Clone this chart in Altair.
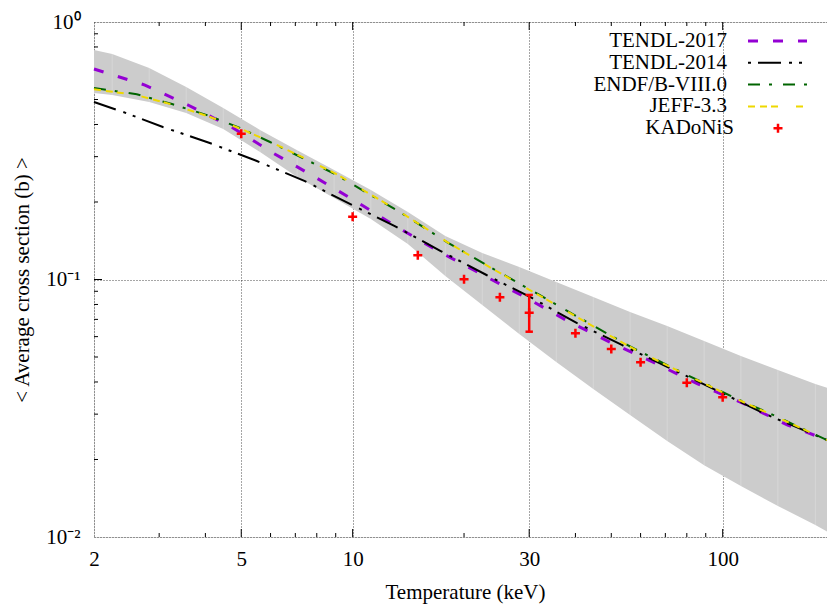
import altair as alt
import pandas as pd

FONT = "Liberation Serif"
AXFONT = "Liberation Serif, Times New Roman, serif"

# ---------------- data ----------------
band_x = [2, 2.24, 2.82, 3.55, 4.47, 5.62, 7.08, 8.91, 11.2, 14.1, 17.8, 22.4,
          28.2, 35.5, 44.7, 56.2, 70.8, 89.1, 112, 141, 178, 191.4]
band_hi = [0.778, 0.751, 0.663, 0.559, 0.463, 0.381, 0.318, 0.266, 0.2226, 0.1829,
           0.1475, 0.1268, 0.1118, 0.0978, 0.0855, 0.0748, 0.0660, 0.0577, 0.0505,
           0.0445, 0.0393, 0.0380]
band_lo = [0.530, 0.5205, 0.489, 0.443, 0.384, 0.3128, 0.250, 0.2073, 0.1718, 0.1374,
           0.1032, 0.0796, 0.0614, 0.0478, 0.0376, 0.0298, 0.0236, 0.0190, 0.01578,
           0.01320, 0.01113, 0.01050]

t17_x = [2, 2.746, 3.59, 4.75, 6.09, 7.91, 10.27, 13.17, 17.2, 22.5, 29.2, 38.1,
         50.1, 65.5, 85.6, 113.3, 149.9, 191.4]
t17_y = [0.657, 0.569, 0.476, 0.388, 0.310, 0.250, 0.200, 0.160, 0.1279, 0.1041,
         0.0855, 0.0690, 0.0567, 0.0474, 0.0393, 0.0331, 0.0272, 0.0238]

t14_x = [2, 2.40, 3.07, 4.11, 5.51, 7.43, 9.83, 13.0, 17.3, 23.0, 30.5, 40.3,
         53.4, 71.0, 98.2, 130.6, 191.4]
t14_y = [0.489, 0.447, 0.391, 0.339, 0.2885, 0.2412, 0.1965, 0.1613, 0.129, 0.1041,
         0.0848, 0.0678, 0.0557, 0.0457, 0.0366, 0.0300, 0.0238]

endf_x = [2, 2.61, 3.25, 4.04, 4.96, 5.98, 7.52, 9.07, 10.93, 13.4, 17.97, 23.5,
          32.0, 42.9, 57.2, 78.0, 106.4, 142.6, 191.4]
endf_y = [0.554, 0.524, 0.480, 0.435, 0.388, 0.342, 0.291, 0.2545, 0.2168, 0.1829,
          0.1398, 0.1118, 0.0871, 0.0684, 0.0542, 0.0434, 0.0350, 0.0290, 0.0238]

jeff_x = [2, 2.61, 3.25, 4.04, 4.96, 5.98, 7.52, 9.07, 10.93, 13.4, 17.97, 23.5,
          32.0, 42.9, 57.2, 78.0, 106.4, 142.6, 191.4]
jeff_y = [0.548, 0.520, 0.478, 0.432, 0.386, 0.343, 0.293, 0.2560, 0.2180, 0.1835,
          0.1400, 0.1115, 0.0866, 0.0680, 0.0540, 0.0433, 0.0349, 0.0289, 0.0238]

kad_x = [5, 10, 15, 20, 25, 30, 40, 50, 60, 80, 100]
kad_y = [0.368, 0.1753, 0.1242, 0.1002, 0.0853, 0.0743, 0.0618, 0.0537, 0.0477,
         0.0397, 0.0349]
kad_err_x = [30]
kad_err_lo = [0.0627]
kad_err_hi = [0.0871]

x_tick_labels = [2, 5, 10, 30, 100]
x_major_ticks = [5, 10, 30, 100]
x_minor_ticks = [3, 4, 6, 7, 8, 9, 20, 40, 50, 60, 70, 80, 90]
y_tick_labels = [0.01, 0.1, 1]
y_major_ticks = [0.1]
y_minor_ticks = [0.02, 0.03, 0.04, 0.05, 0.06, 0.07, 0.08, 0.09,
                 0.2, 0.3, 0.4, 0.5, 0.6, 0.7, 0.8, 0.9]

legend_names = ["TENDL-2017", "TENDL-2014", "ENDF/B-VIII.0", "JEFF-3.3", "KADoNiS"]

# ---------------- layout / style ----------------
W, H = 733, 515
XMIN, XMAX = 2, 191.4

xscale = alt.Scale(type="log", domain=[XMIN, XMAX], nice=False)
yscale = alt.Scale(type="log", domain=[0.01, 1], nice=False)

xaxis = alt.Axis(values=x_tick_labels, format="d", grid=True, gridDash=[1, 2],
                 gridColor="black", gridOpacity=0.7, gridWidth=1, ticks=False,
                 tickSize=0, domain=False, labelFont=AXFONT, labelFontSize=21,
                 labelColor="black", labelPadding=11, labelFlush=False,
                 labelOverlap=False, labelBound=False,
                 title="Temperature (keV)", titleFont=AXFONT, titleFontSize=21,
                 titleFontWeight="normal", titleColor="black", titleX=371,
                 titleY=55, titleAlign="center", titleBaseline="middle", zindex=0)
yaxis = alt.Axis(values=y_tick_labels,
                 labelExpr="datum.value > 0.5 ? '10⁰' : (datum.value > 0.05 ? '10⁻¹' : '10⁻²')",
                 grid=True, gridDash=[1, 2], gridColor="black", gridOpacity=0.7,
                 gridWidth=1, ticks=False, tickSize=0, domain=False, labelFont=AXFONT,
                 labelFontSize=21, labelColor="black", labelPadding=14,
                 labelFlush=False, labelOverlap=False, labelBound=False,
                 labelBaseline="middle",
                 title="< Average cross section (b) >", titleFont=AXFONT,
                 titleFontSize=21, titleFontWeight="normal", titleColor="black",
                 titleAngle=270, titleX=-72, titleY=257.5, titleAlign="center",
                 titleBaseline="middle", zindex=0)


def X(field):
    return alt.X(field, type="quantitative", scale=xscale, axis=xaxis)


def Y(field):
    return alt.Y(field, type="quantitative", scale=yscale, axis=yaxis)


layers = []

# inward ticks (drawn first, band covers them like in the reference)
for vals, length in [(x_major_ticks, 8), (x_minor_ticks, 4)]:
    d = pd.DataFrame({"x": vals})
    layers.append(alt.Chart(d).mark_rule(color="black", strokeWidth=1).encode(
        x=X("x"), y=alt.value(H), y2=alt.value(H - length)))
    layers.append(alt.Chart(d).mark_rule(color="black", strokeWidth=1).encode(
        x=X("x"), y=alt.value(0), y2=alt.value(length)))
for vals, length in [(y_major_ticks, 8), (y_minor_ticks, 4)]:
    d = pd.DataFrame({"y": vals})
    layers.append(alt.Chart(d).mark_rule(color="black", strokeWidth=1).encode(
        y=Y("y"), x=alt.value(0), x2=alt.value(length)))

# uncertainty band
band = pd.DataFrame({"x": band_x, "lo": band_lo, "hi": band_hi})
layers.append(alt.Chart(band).mark_area(color="#cccccc", opacity=1).encode(
    x=X("x"), y=Y("hi"), y2="lo"))
# faint seams between band segments
layers.append(alt.Chart(band.iloc[1:-1]).mark_rule(color="white", opacity=0.22,
                                                   strokeWidth=1).encode(
    x=X("x"), y=Y("hi"), y2="lo"))

styles = {
    "TENDL-2017": dict(color="#9400D3", strokeDash=[10, 15], strokeWidth=3),
    "TENDL-2014": dict(color="black", strokeDash=[23, 8, 3, 7, 3, 7], strokeWidth=2),
    "ENDF/B-VIII.0": dict(color="#006400", strokeDash=[12, 9, 3, 11], strokeWidth=2),
    "JEFF-3.3": dict(color="#EED800", strokeDash=[7, 5, 7, 4, 7, 18], strokeWidth=2),
}
series = {
    "TENDL-2017": (t17_x, t17_y),
    "TENDL-2014": (t14_x, t14_y),
    "ENDF/B-VIII.0": (endf_x, endf_y),
    "JEFF-3.3": (jeff_x, jeff_y),
}
for name in ["TENDL-2017", "TENDL-2014", "ENDF/B-VIII.0", "JEFF-3.3"]:
    xs, ys = series[name]
    d = pd.DataFrame({"x": xs, "y": ys})
    layers.append(alt.Chart(d).mark_line(**styles[name]).encode(x=X("x"), y=Y("y")))

# KADoNiS points and error bar
CROSS = "M-1,0L1,0M0,-1L0,1"
CAP = "M-1,0L1,0"
err = pd.DataFrame({"x": kad_err_x, "lo": kad_err_lo, "hi": kad_err_hi})
layers.append(alt.Chart(err).mark_rule(color="red", strokeWidth=2.5).encode(
    x=X("x"), y=Y("lo"), y2="hi"))
for col in ["lo", "hi"]:
    layers.append(alt.Chart(err).mark_point(shape=CAP, size=55, filled=False,
                                            color="red", strokeWidth=2.5,
                                            opacity=1).encode(x=X("x"), y=Y(col)))
kad = pd.DataFrame({"x": kad_x, "y": kad_y})
layers.append(alt.Chart(kad).mark_point(shape=CROSS, size=81, filled=False,
                                        color="red", strokeWidth=2.5,
                                        opacity=1).encode(x=X("x"), y=Y("y")))

# legend (top right, text right-justified, sample to the right)
for i, name in enumerate(legend_names):
    ry = 19 + 21.8 * i
    tx = 640 if name == "KADoNiS" else 633
    layers.append(alt.Chart(pd.DataFrame({"t": [name]})).mark_text(
        align="right", baseline="middle", font=FONT, fontSize=21, color="black").encode(
        text="t:N", x=alt.value(tx), y=alt.value(ry)))
    if name in styles:
        st = dict(styles[name])
        if name == "TENDL-2014":
            st["strokeDashOffset"] = 41
        layers.append(alt.Chart(pd.DataFrame({"t": [name]})).mark_rule(**st).encode(
            x=alt.value(654), x2=alt.value(713), y=alt.value(ry)))
    else:
        layers.append(alt.Chart(pd.DataFrame({"t": [name]})).mark_point(
            shape=CROSS, size=81, filled=False, color="red", strokeWidth=2.5,
            opacity=1).encode(x=alt.value(684), y=alt.value(ry)))

chart = alt.layer(*layers).properties(
    width=W, height=H,
    padding={"left": 94, "top": 22, "right": 0, "bottom": 69},
    autosize=alt.AutoSizeParams(type="none"),
    background="white",
).configure_view(stroke="black", strokeWidth=1.5).configure_axis(
    labelFont=AXFONT, titleFont=AXFONT, labelFontSize=21, titleFontSize=21,
    titleFontWeight="normal", labelColor="black", titleColor="black",
).configure_text(font=FONT).configure(
    font=FONT,
    style={"guide-label": {"font": AXFONT}, "guide-title": {"font": AXFONT}},
)

chart.save("out.html", embed_options={"renderer": "svg", "actions": False})
